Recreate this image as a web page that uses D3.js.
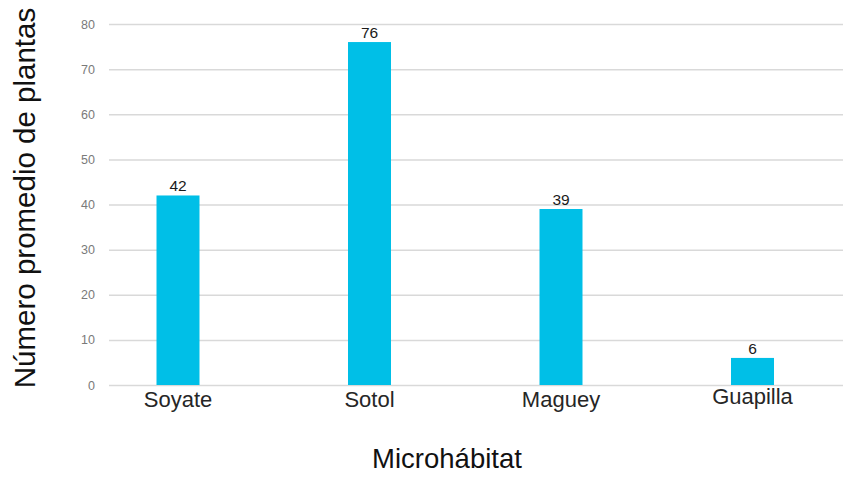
<!DOCTYPE html>
<html>
<head>
<meta charset="utf-8">
<script src="https://cdn.jsdelivr.net/npm/d3@7"></script>
<style>
  html, body { margin: 0; padding: 0; background: #ffffff; }
  svg { display: block; font-family: "Liberation Sans", Arial, sans-serif; }
</style>
</head>
<body>
<svg id="chart" width="843" height="479"></svg>
<script>
// Average number of plants per microhabitat
const categories = ["Soyate", "Sotol", "Maguey", "Guapilla"];
const values = [42, 76, 39, 6];
const yTicks = [0, 10, 20, 30, 40, 50, 60, 70, 80];
const xTitle = "Microhábitat";
const yTitle = "Número promedio de plantas";

const width = 843, height = 479;
const svg = d3.select("#chart");

const y = d3.scaleLinear().domain([0, 80]).range([385, 24]);
const x = d3.scaleBand()
  .domain(categories)
  .range([82.25, 848.25])
  .paddingInner(0.7755)
  .paddingOuter(0.38775);

// Horizontal gridlines
svg.append("g")
  .selectAll("line")
  .data(yTicks)
  .join("line")
  .attr("x1", 109)
  .attr("x2", width)
  .attr("y1", d => y(d) + 0.5)
  .attr("y2", d => y(d) + 0.5)
  .attr("stroke", "#d9d9d9")
  .attr("stroke-width", 1.5);

// Y axis tick labels (no domain line, no tick marks)
const yAxis = d3.axisLeft(y).tickValues(yTicks).tickSize(0).tickPadding(0);
const gy = svg.append("g").attr("transform", "translate(95,0)").call(yAxis);
gy.select(".domain").remove();
gy.selectAll("text")
  .attr("fill", "#7a7a7a")
  .attr("font-size", 12.5)
  .attr("font-family", "'Liberation Sans', Arial, sans-serif");

// Bars
svg.append("g")
  .selectAll("rect")
  .data(values)
  .join("rect")
  .attr("x", (d, i) => x(categories[i]))
  .attr("width", x.bandwidth())
  .attr("y", d => y(d))
  .attr("height", d => y(0) - y(d))
  .attr("fill", "#00bfe7");

// Value labels
svg.append("g")
  .selectAll("text")
  .data(values)
  .join("text")
  .attr("x", (d, i) => x(categories[i]) + x.bandwidth() / 2)
  .attr("y", d => y(d) - 4)
  .attr("text-anchor", "middle")
  .attr("font-size", 15.5)
  .attr("fill", "#1a1a1a")
  .text(d => d);

// Category labels; the last one sits a little higher
const xAxis = d3.axisBottom(x).tickSize(0).tickPadding(0);
const gx = svg.append("g").attr("transform", "translate(0,385)").call(xAxis);
gx.select(".domain").remove();
gx.selectAll("text")
  .attr("dy", null)
  .attr("y", (d, i) => i === categories.length - 1 ? 18.5 : 21.5)
  .attr("fill", "#262626")
  .attr("font-size", 22)
  .attr("font-family", "'Liberation Sans', Arial, sans-serif");

// Axis titles
svg.append("text")
  .attr("x", 447)
  .attr("y", 468)
  .attr("text-anchor", "middle")
  .attr("font-size", 27.5)
  .attr("fill", "#111")
  .text(xTitle);

svg.append("text")
  .attr("transform", "translate(35,198) rotate(-90)")
  .attr("text-anchor", "middle")
  .attr("font-size", 29.5)
  .attr("fill", "#111")
  .text(yTitle);
</script>
</body>
</html>
